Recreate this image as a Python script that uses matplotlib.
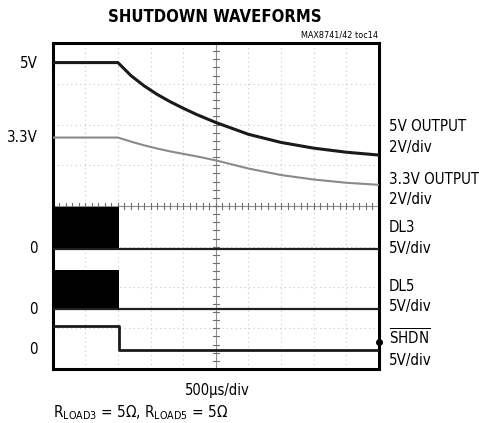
import numpy as np
import matplotlib
matplotlib.use("Agg")
from matplotlib import pyplot as plt

plt.rcParams['font.family'] = ['DejaVu Sans']
plt.rcParams['font.stretch'] = 'condensed'
plt.rcParams['mathtext.fontset'] = 'dejavusans'

# Lecturas en divisiones de la pantalla (x: 0..10, y: 0..8)
t_out = [0, 2.0, 2.4, 2.8, 3.2, 3.6, 4.0, 4.4, 5.0, 6.0, 7.0, 8.0, 9.0, 10.0]
v_5v = [7.52, 7.52, 7.20, 6.95, 6.74, 6.56, 6.40, 6.25, 6.05, 5.76, 5.56, 5.42, 5.32, 5.25]
v_3v3 = [5.68, 5.68, 5.58, 5.49, 5.41, 5.34, 5.28, 5.22, 5.12, 4.92, 4.76, 4.65, 4.57, 4.52]

t_sw = [0, 2.03, 2.03, 10.0]
dl3_ground = 2.95
dl3_high = 3.97
dl5_ground = 1.46
dl5_high = 2.43
shdn = [1.05, 1.05, 0.47, 0.47]

left_labels = ["5V", "3.3V", "0", "0", "0"]
left_levels = [7.5, 5.68, 2.95, 1.46, 0.47]
right_labels = ["5V OUTPUT\n2V/div", "3.3V OUTPUT\n2V/div", "DL3\n5V/div",
                "DL5\n5V/div", "$\\overline{\\mathrm{SHDN}}$\n5V/div"]
right_levels = [5.69, 4.40, 3.21, 1.78, 0.52]

fig = plt.figure(figsize=(4.79, 4.23), dpi=100)
ax = fig.add_axes([0.110, 0.1277, 0.681, 0.7706])
ax.set_xlim(0, 10)
ax.set_ylim(0, 8)

# reticula punteada
for gx in range(1, 10):
    ax.axvline(gx, color='#c8c8c8', lw=0.8, ls=(0, (1, 3)), zorder=1)
for gy in range(1, 8):
    ax.axhline(gy, color='#c8c8c8', lw=0.8, ls=(0, (1, 3)), zorder=1)
# ejes centrales con marcas
ax.axvline(5, color='#909090', lw=0.8, zorder=1)
ax.axhline(4, color='#909090', lw=0.8, zorder=1)
for k in np.arange(0, 8.01, 0.2):
    ax.plot([4.9, 5.1], [k, k], color='#707070', lw=0.8, zorder=1)
for k in np.arange(0, 10.01, 0.2):
    ax.plot([k, k], [3.93, 4.07], color='#707070', lw=0.8, zorder=1)

# trazas
ax.plot(t_out, v_5v, color='#1a1a1a', lw=2.2, zorder=3)
ax.plot(t_out, v_3v3, color='#8a8a8a', lw=1.5, zorder=3)

ax.fill_between([0, 2.03], dl3_ground, dl3_high, color='black', lw=0, zorder=3)
ax.plot([0, 10], [dl3_ground, dl3_ground], color='#202020', lw=1.6, zorder=3)
ax.fill_between([0, 2.03], dl5_ground, dl5_high, color='black', lw=0, zorder=3)
ax.plot([0, 10], [dl5_ground, dl5_ground], color='#202020', lw=1.6, zorder=3)
ax.plot(t_sw, shdn, color='#1a1a1a', lw=2.0, zorder=3)
ax.plot([10], [0.67], marker='o', ms=4, color='black', clip_on=False, zorder=4)

ax.set_xticks([])
ax.set_yticks([])
for s in ax.spines.values():
    s.set_linewidth(2.2)

for lab, lev in zip(left_labels, left_levels):
    ax.text(-0.45, lev, lab, ha='right', va='center', fontsize=10.8)
for lab, lev in zip(right_labels, right_levels):
    ax.text(10.3, lev, lab, ha='left', va='center', fontsize=10.8, linespacing=1.45)

fig.text(0.449, 0.96, "SHUTDOWN WAVEFORMS", ha='center', va='center',
         fontsize=12, fontweight='bold')
fig.text(0.79, 0.917, "MAX8741/42 toc14", ha='right', va='center', fontsize=6.5)
fig.text(0.453, 0.078, "500µs/div", ha='center', va='center', fontsize=10.5)
fig.text(0.11, 0.025, "R$_{\\mathrm{LOAD3}}$ = 5Ω, R$_{\\mathrm{LOAD5}}$ = 5Ω",
         ha='left', va='center', fontsize=11)

fig.savefig("out.png", dpi=100)
